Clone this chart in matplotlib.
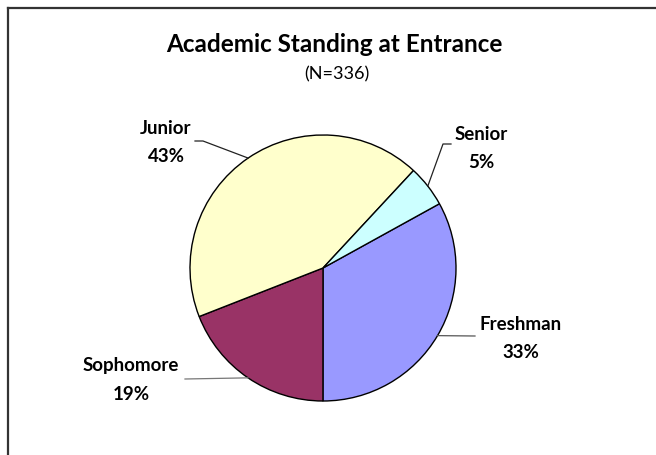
import numpy as np
import matplotlib
matplotlib.use("Agg")
import matplotlib.pyplot as plt

# data: students by academic standing at entrance (N=336)
categories = ["Freshman", "Sophomore", "Junior", "Senior"]
counts = [111, 64, 144, 17]
pct_labels = ["33%", "19%", "43%", "5%"]
colors = ["#9999FF", "#993366", "#FFFFCC", "#CCFFFF"]

W, H = 656, 455
plt.rcParams['font.family'] = ['Lato', 'DejaVu Sans']

fig = plt.figure(figsize=(W / 100, H / 100), dpi=100)
ax = fig.add_axes([0, 0, 1, 1])


def py(y):
    # image pixel row -> axes y
    return H - y


cx, cy, r = 323, 268, 133
wedges, _ = ax.pie(counts, colors=colors, startangle=28.9, counterclock=False,
                   center=(cx, py(cy)), radius=r,
                   wedgeprops=dict(edgecolor="black", linewidth=1.0))

ax.set_xlim(0, W)
ax.set_ylim(0, H)
ax.set_aspect("equal")
ax.axis("off")

# chart border (only top and left visible)
ax.plot([8, W], [py(8), py(8)], color="#333333", lw=1.6, clip_on=False)
ax.plot([8, 8], [py(8), 0], color="#333333", lw=1.6, clip_on=False)

# title
ax.text(334, py(44), "Academic Standing at Entrance", ha="center", va="center",
        fontsize=17.5, fontweight="bold", color="black")
ax.text(337, py(74), "(N=336)", ha="center", va="center", fontsize=13, color="black")

# label positions (name row, pct row) and leader elbows
label_xy = {
    "Freshman": (521, 324, 352),
    "Sophomore": (131, 366, 395),
    "Junior": (166, 129, 157),
    "Senior": (481, 134, 162),
}
elbows = {
    "Freshman": [(475, 336)],
    "Sophomore": [(185, 379)],
    "Junior": [(195, 141), (203, 141)],
    "Senior": [(451, 144), (443, 144)],
}
line_col = {"Freshman": "#555555", "Sophomore": "#777777",
            "Junior": "#222222", "Senior": "#222222"}

for w, name, pct in zip(wedges, categories, pct_labels):
    x, y1, y2 = label_xy[name]
    ax.text(x, py(y1), name, ha="center", va="center", fontsize=13.5,
            fontweight="bold", color="black")
    ax.text(x, py(y2), pct, ha="center", va="center", fontsize=13.5,
            fontweight="bold", color="black")
    mid = np.deg2rad((w.theta1 + w.theta2) / 2)
    ex, ey = cx + r * np.cos(mid), py(cy) + r * np.sin(mid)
    pts = [(px_, py(py_)) for px_, py_ in elbows[name]] + [(ex, ey)]
    xs, ys = zip(*pts)
    ax.plot(xs, ys, color=line_col[name], lw=0.9)

fig.savefig("out.png", dpi=100)
